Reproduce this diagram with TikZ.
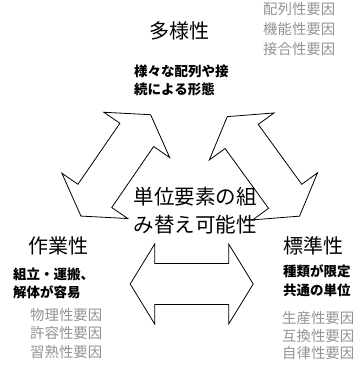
\documentclass[tikz,border=0pt]{standalone}
\usepackage{fontspec}
\newfontfamily\cjk{Noto Sans CJK JP}
\tikzset{
  arrowline/.style={draw=black, line width=0.8pt, line join=miter, fill=white},
  title/.style={font=\cjk\fontsize{20}{22}\selectfont, inner sep=0pt, anchor=base},
  desc/.style={font=\cjk\bfseries\fontsize{13.5}{16}\selectfont, inner sep=0pt, anchor=base west},
  factor/.style={font=\cjk\fontsize{14.4}{16}\selectfont, text=black!42, inner sep=0pt, anchor=base west},
  centre/.style={font=\cjk\fontsize{20.5}{22}\selectfont, inner sep=0pt, anchor=base},
}
\newcommand{\DArrow}[3]{%
  \begin{scope}[shift={(#1,#2)}, rotate=#3]
    \draw[arrowline] (-61.5,0) -- (-37,40) -- (-37,20.5) -- (37,20.5) -- (37,40)
      -- (61.5,0) -- (37,-40) -- (37,-20.5) -- (-37,-20.5) -- (-37,-40) -- cycle;
  \end{scope}}
\begin{document}
\begin{tikzpicture}[x=1pt, y=1pt]
\useasboundingbox (0,0) rectangle (361,366);
\fill[white] (0,0) rectangle (361,366);

% block double arrows
\DArrow{115.8}{200.6}{55.5}
\DArrow{263.4}{199.6}{126}
\DArrow{191.7}{82}{0}

% titles
\node[title] (tA) at (179,327.4) {多様性};
\node[title] (tB) at (58,112.4) {作業性};
\node[title] (tC) at (313,112.4) {標準性};

% descriptions
\node[desc] (dA1) at (134,289.9) {様々な配列や接};
\node[desc] (dA2) at (134,271.9) {続による形態};
\node[desc] (dB1) at (13,86.9) {組立・運搬、};
\node[desc] (dB2) at (13,68.4) {解体が容易};
\node[desc] (dC1) at (283,89.9) {種類が限定};
\node[desc] (dC2) at (283,70.9) {共通の単位};

% centre text
\node[centre] (c1) at (195,161.2) {単位要素の組};
\node[centre] (c2) at (195,133.2) {み替え可能性};

% factors
\node[factor] (fA1) at (263,351) {配列性要因};
\node[factor] (fA2) at (263,331) {機能性要因};
\node[factor] (fA3) at (263,311.5) {接合性要因};
\node[factor] (fB1) at (30,45.5) {物理性要因};
\node[factor] (fB2) at (30,27) {許容性要因};
\node[factor] (fB3) at (30,8.5) {習熟性要因};
\node[factor] (fC1) at (282,42) {生産性要因};
\node[factor] (fC2) at (282,24.5) {互換性要因};
\node[factor] (fC3) at (282,7) {自律性要因};
\end{tikzpicture}
\end{document}
